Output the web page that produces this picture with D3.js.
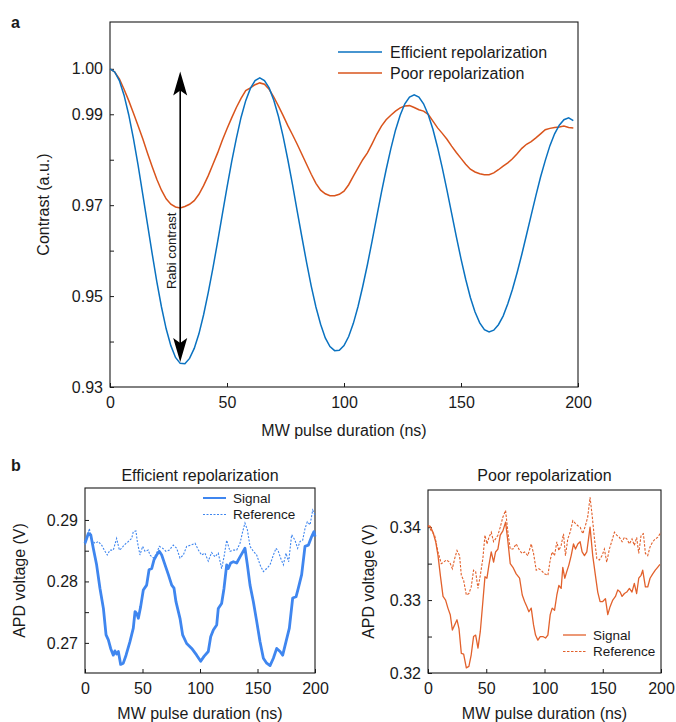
<!DOCTYPE html>
<html>
<head>
<meta charset="utf-8">
<script src="https://cdn.jsdelivr.net/npm/d3@7"></script>
<style>
  html, body { margin: 0; padding: 0; background: #fff; }
  svg { display: block; font-family: "Liberation Sans", Arial, Helvetica, sans-serif; }
  text { fill: #1a1a1a; }
</style>
</head>
<body>
<svg id="chart" width="676" height="722"></svg>
<script>
// ---------------- DATA ----------------
// Panel a : contrast vs MW pulse duration (ns)
const timeA = d3.range(0, 200, 2);
const efficientContrast = [
  1.0000,0.9993,0.9974,0.9942,0.9899,0.9847,0.9788,0.9724,0.9659,0.9594,
  0.9532,0.9476,0.9428,0.9391,0.9365,0.9352,0.9351,0.9363,0.9385,0.9417,
  0.9459,0.9508,0.9562,0.9620,0.9680,0.9739,0.9796,0.9847,0.9893,0.9930,
  0.9957,0.9974,0.9980,0.9974,0.9958,0.9931,0.9895,0.9851,0.9800,0.9745,
  0.9687,0.9630,0.9574,0.9522,0.9476,0.9438,0.9408,0.9389,0.9380,0.9381,
  0.9391,0.9411,0.9440,0.9477,0.9521,0.9569,0.9621,0.9675,0.9728,0.9778,
  0.9824,0.9865,0.9898,0.9923,0.9938,0.9943,0.9938,0.9923,0.9899,0.9867,
  0.9827,0.9782,0.9733,0.9682,0.9631,0.9582,0.9537,0.9497,0.9465,0.9441,
  0.9426,0.9421,0.9425,0.9437,0.9456,0.9483,0.9515,0.9552,0.9592,0.9635,
  0.9678,0.9721,0.9762,0.9798,0.9831,0.9857,0.9876,0.9888,0.9892,0.9886
];
const poorContrast = [
  1.0000,0.9993,0.9978,0.9955,0.9930,0.9903,0.9875,0.9846,0.9815,0.9785,
  0.9757,0.9733,0.9714,0.9702,0.9696,0.9694,0.9697,0.9702,0.9710,0.9724,
  0.9743,0.9765,0.9790,0.9815,0.9843,0.9868,0.9892,0.9915,0.9935,0.9952,
  0.9958,0.9965,0.9969,0.9966,0.9955,0.9938,0.9918,0.9897,0.9875,0.9855,
  0.9834,0.9812,0.9790,0.9768,0.9748,0.9733,0.9725,0.9721,0.9721,0.9724,
  0.9731,0.9745,0.9764,0.9782,0.9800,0.9815,0.9835,0.9856,0.9874,0.9888,
  0.9898,0.9907,0.9914,0.9918,0.9919,0.9915,0.9910,0.9907,0.9900,0.9885,
  0.9870,0.9858,0.9845,0.9830,0.9816,0.9803,0.9790,0.9779,0.9773,0.9769,
  0.9767,0.9767,0.9771,0.9778,0.9786,0.9793,0.9802,0.9813,0.9825,0.9834,
  0.9840,0.9848,0.9857,0.9866,0.9869,0.9871,0.9872,0.9874,0.9871,0.9870
];
const seriesNamesA = ["Efficient repolarization", "Poor repolarization"];
const yTicksA = [0.93,0.94,0.95,0.96,0.97,0.98,0.99,1.00];
const yLabeledA = [0.93,0.95,0.97,0.99,1.00];
const xTicks = [0,50,100,150,200];
const rabiArrow = { t: 30, low: 0.9355, high: 0.9994, label: "Rabi contrast" };

// Panel b (left): efficient repolarization, APD voltage (V)
const effSigT = [0,2.9,5,7.2,10.1,13,16,18.3,20.3,22.3,24.6,26,27.5,29,31,33.3,35.7,39.1,42,43.5,44.9,46.4,48.4,50.7,53.6,55.7,58,60,62.3,64.6,66.7,69.6,72.5,75.4,77.4,79.1,82.6,84.9,88.4,92.8,97.1,100.6,103.5,107.2,109.3,111.6,114.5,115.9,118.8,120.9,123.2,124.6,126.7,129,131.9,134.8,139.1,141.2,143.5,146.4,149.3,152.2,155.1,158,160.9,163.8,166.7,169.6,171.9,174.8,177.7,180.6,183.5,185.5,188.4,191.3,194.2,197.1,199.1,200];
const effSigV = [0.2862,0.2878,0.2876,0.2854,0.2827,0.2789,0.2756,0.2713,0.2705,0.2691,0.2680,0.2687,0.2682,0.2686,0.2665,0.2667,0.2680,0.2702,0.2724,0.2751,0.2748,0.2740,0.2759,0.2786,0.2794,0.2819,0.2821,0.2835,0.2843,0.2849,0.2843,0.2827,0.2811,0.2794,0.2789,0.2767,0.2740,0.2713,0.2699,0.2691,0.2680,0.2670,0.2678,0.2686,0.2710,0.2721,0.2729,0.2756,0.2764,0.2789,0.2827,0.2821,0.2830,0.2832,0.2830,0.2840,0.2854,0.2827,0.2794,0.2767,0.2735,0.2702,0.2675,0.2667,0.2663,0.2675,0.2691,0.2686,0.2680,0.2702,0.2724,0.2773,0.2775,0.2789,0.2811,0.2857,0.2859,0.2873,0.2881,0.2873];
const effRefT = [0,2,3.8,5.8,8.7,11.6,14.5,17.4,19.4,21.7,24.6,27.5,29.9,31.9,33.9,37.7,40.6,42,44.3,45.5,47.8,50.1,52.2,55,56.5,59.4,61.7,64.6,67.5,70.4,73.3,76.8,79.7,82.6,85.5,88.4,91.9,95.7,98.6,101.4,104.3,107.2,110.1,113,115.9,118.8,120.9,123.2,126.1,129,131.9,134.8,137.1,139.1,141.2,143.5,146.4,149.3,152.2,155.1,158,160.9,163.8,166.1,168.1,170.1,172.5,174.8,177.1,179.7,182.6,184.9,187,189.3,191.3,193.3,195.7,198,200];
const effRefV = [0.2859,0.2873,0.2886,0.2867,0.2862,0.2865,0.2859,0.2849,0.2843,0.2851,0.2851,0.2870,0.2851,0.2854,0.2859,0.2865,0.2870,0.2881,0.2882,0.2865,0.2843,0.2857,0.2849,0.2851,0.2843,0.2838,0.2843,0.2857,0.2854,0.2849,0.2851,0.2859,0.2854,0.2838,0.2843,0.2857,0.2859,0.2862,0.2851,0.2843,0.2846,0.2833,0.2847,0.2840,0.2846,0.2821,0.2840,0.2867,0.2849,0.2851,0.2851,0.2862,0.2881,0.2895,0.2884,0.2857,0.2849,0.2843,0.2827,0.2816,0.2821,0.2827,0.2843,0.2854,0.2849,0.2838,0.2827,0.2846,0.2832,0.2876,0.2867,0.2854,0.2865,0.2867,0.2886,0.2897,0.2892,0.2916,0.2908];
const yTicksEff = [0.27,0.275,0.28,0.285,0.29];
const yLabeledEff = [0.27,0.28,0.29];

// Panel b (right): poor repolarization
const poorSigT = [0,2,4.3,6.6,8.6,10.6,12.9,15.1,17.1,19.1,20.9,22.9,24.9,26.6,28.6,30.6,32.9,35.1,37.1,39.1,40.9,42.9,44.9,47.1,48.9,50.6,52.3,54.3,56.3,58,60,62,64.3,66.6,68.6,70.6,72.9,75.7,78.6,80.9,82.9,84.9,86.6,88.6,90.6,92.3,94.3,96.3,98.6,100.9,102.9,104.9,106.6,108.6,110.6,112.3,114.3,115.7,117.4,119.1,120.9,122.9,124.9,126.6,128.6,130.6,132.3,134.3,136.3,139.1,141.4,143.7,145.7,147.7,150,152.3,154.3,156.3,158.6,160.9,162.9,164.9,166.6,168.6,170.6,172.9,175.1,177.1,179.1,180.9,182.9,184.3,186.6,188.6,190.6,192.9,195.1,197.1,199.1];
const poorSigV = [0.3402,0.3401,0.3393,0.3380,0.3361,0.3334,0.3305,0.3300,0.3289,0.3280,0.3259,0.3266,0.3273,0.3261,0.3227,0.3226,0.3207,0.3209,0.3225,0.3250,0.3252,0.3234,0.3257,0.3298,0.3332,0.3330,0.3348,0.3366,0.3352,0.3366,0.3370,0.3389,0.3395,0.3407,0.3380,0.3350,0.3345,0.3336,0.3330,0.3307,0.3298,0.3291,0.3284,0.3289,0.3266,0.3252,0.3245,0.3250,0.3250,0.3248,0.3252,0.3280,0.3289,0.3286,0.3307,0.3320,0.3316,0.3345,0.3330,0.3339,0.3348,0.3361,0.3377,0.3370,0.3377,0.3380,0.3366,0.3361,0.3366,0.3400,0.3361,0.3334,0.3311,0.3298,0.3298,0.3302,0.3280,0.3291,0.3300,0.3305,0.3314,0.3311,0.3305,0.3309,0.3311,0.3316,0.3311,0.3323,0.3309,0.3330,0.3334,0.3341,0.3318,0.3318,0.3330,0.3336,0.3341,0.3345,0.3349];
const poorRefT = [0,2.9,5.7,8.6,11.4,13.4,15.7,18.6,20.9,22.9,24.9,27.1,28.6,30.6,32.9,35.1,37.1,39.1,40.9,42.9,44.9,47.1,48.9,50.6,52.3,54.3,56.3,58,60,62,64.3,66.6,68.6,70.6,72.9,75.7,78.6,80.9,82.9,85.7,88.6,90.6,92.9,95.1,97.1,100,102.9,104.9,106.6,108.6,110.6,112.3,114.3,116.3,118,120,122,124.3,126.6,128.6,130.6,132.9,135.1,137.1,139.1,140.9,142.9,144.9,147.1,149.4,151.4,153.4,155.7,158,160,162,164.3,166.6,168.6,170.6,172.9,175.1,177.1,179.1,180.9,182.9,184.9,186.6,188.6,190.6,192.9,195.1,197.1,200];
const poorRefV = [0.3402,0.3395,0.3389,0.3366,0.3350,0.3352,0.3355,0.3352,0.3343,0.3357,0.3368,0.3361,0.3334,0.3327,0.3307,0.3309,0.3318,0.3341,0.3339,0.3316,0.3334,0.3357,0.3389,0.3377,0.3386,0.3393,0.3380,0.3384,0.3389,0.3400,0.3414,0.3423,0.3393,0.3370,0.3370,0.3377,0.3368,0.3364,0.3366,0.3361,0.3377,0.3364,0.3341,0.3343,0.3341,0.3336,0.3334,0.3355,0.3366,0.3361,0.3380,0.3368,0.3375,0.3391,0.3361,0.3384,0.3393,0.3409,0.3405,0.3402,0.3400,0.3391,0.3402,0.3414,0.3441,0.3416,0.3384,0.3357,0.3355,0.3361,0.3370,0.3352,0.3370,0.3382,0.3393,0.3389,0.3386,0.3380,0.3386,0.3384,0.3377,0.3384,0.3375,0.3386,0.3364,0.3389,0.3391,0.3364,0.3361,0.3373,0.3380,0.3384,0.3386,0.3393];
const yTicksPoor = [0.32,0.325,0.33,0.335,0.34];
const yLabeledPoor = [0.32,0.33,0.34];
const legendB = ["Signal", "Reference"];

// ---------------- STYLE ----------------
const C = {
  blueA: "#0a72c0", orangeA: "#d9541c",
  blueB: "#3f86ef", orangeB: "#e2612c",
  ink: "#1a1a1a"
};

const svg = d3.select("#chart");

function zip(t, v) { return t.map((x, i) => ({ t: x, v: v[i] })); }

function frameAxes(g, x, y, w, h, yTicks, yLabeled, yFmt, fs, xPad) {
  const ax = g.append("g").attr("transform", `translate(0,${h})`)
    .call(d3.axisBottom(x).tickValues(xTicks).tickSizeInner(-4).tickSizeOuter(0).tickPadding(xPad).tickFormat(d3.format("d")));
  const ay = g.append("g")
    .call(d3.axisLeft(y).tickValues(yTicks).tickSizeInner(-4).tickSizeOuter(0).tickPadding(7)
      .tickFormat(d => yLabeled.some(l => Math.abs(l - d) < 1e-9) ? d3.format(yFmt)(d) : ""));
  [ax, ay].forEach(a => {
    a.selectAll("text").attr("font-size", fs).attr("fill", C.ink).attr("font-family", null);
    a.selectAll("line").attr("stroke", C.ink);
    a.select(".domain").remove();
  });
  g.append("rect").attr("x", 0).attr("y", 0).attr("width", w).attr("height", h)
    .attr("fill", "none").attr("stroke", C.ink).attr("stroke-width", 1.1);
}

// ---------------- PANEL A ----------------
{
  const L = 110, T = 22, W = 468, H = 365;
  const x = d3.scaleLinear().domain([0, 200]).range([0, W]);
  const y = d3.scaleLinear().domain([0.93, 1.0103]).range([H, 0]);
  const g = svg.append("g").attr("transform", `translate(${L},${T})`);
  frameAxes(g, x, y, W, H, yTicksA, yLabeledA, ".2f", 16, 10);

  const line = d3.line().x(d => x(d.t)).y(d => y(d.v));
  g.append("path").datum(zip(timeA, poorContrast)).attr("d", line)
    .attr("fill", "none").attr("stroke", C.orangeA).attr("stroke-width", 1.5);
  g.append("path").datum(zip(timeA, efficientContrast)).attr("d", line)
    .attr("fill", "none").attr("stroke", C.blueA).attr("stroke-width", 1.5);

  // Rabi contrast arrow
  const ax = x(rabiArrow.t), y1 = y(rabiArrow.high), y2 = y(rabiArrow.low);
  g.append("line").attr("x1", ax).attr("x2", ax).attr("y1", y1 + 10).attr("y2", y2 - 10)
    .attr("stroke", "#000").attr("stroke-width", 1.6);
  const head = "M0,0 L7,24 L0,19 L-7,24 Z";
  g.append("path").attr("d", head).attr("transform", `translate(${ax},${y1})`).attr("fill", "#000");
  g.append("path").attr("d", head).attr("transform", `translate(${ax},${y2}) rotate(180)`).attr("fill", "#000");
  g.append("text").attr("transform", `translate(${ax - 4},${y(0.9692) + 42}) rotate(-90)`)
    .attr("text-anchor", "middle").attr("font-size", 13).text(rabiArrow.label);

  // axis titles
  svg.append("text").attr("x", L + W / 2).attr("y", 436).attr("text-anchor", "middle")
    .attr("font-size", 16).text("MW pulse duration (ns)");
  svg.append("text").attr("transform", `translate(49,${T + H / 2}) rotate(-90)`)
    .attr("text-anchor", "middle").attr("font-size", 16).text("Contrast (a.u.)");

  // legend
  const cols = [C.blueA, C.orangeA];
  seriesNamesA.forEach((n, i) => {
    const ly = 52 + i * 21;
    svg.append("line").attr("x1", 338).attr("x2", 382).attr("y1", ly).attr("y2", ly)
      .attr("stroke", cols[i]).attr("stroke-width", 1.5);
    svg.append("text").attr("x", 390).attr("y", ly + 5.5).attr("font-size", 16).text(n);
  });

  svg.append("text").attr("x", 11).attr("y", 28).attr("font-size", 16).attr("font-weight", "bold").text("a");
}

// ---------------- PANEL B ----------------
function panelB(opts) {
  const { L, T, W, H, dom, yTicks, yLabeled, sigT, sigV, refT, refV, col, sigW, refW, dash, title, legX, legY, ylabX } = opts;
  const x = d3.scaleLinear().domain([0, 200]).range([0, W]);
  const y = d3.scaleLinear().domain(dom).range([H, 0]);
  const g = svg.append("g").attr("transform", `translate(${L},${T})`);
  frameAxes(g, x, y, W, H, yTicks, yLabeled, ".2f", 16, 10);
  const line = d3.line().x(d => x(d.t)).y(d => y(d.v));
  g.append("path").datum(zip(refT, refV)).attr("d", line).attr("fill", "none")
    .attr("stroke", col).attr("stroke-width", refW).attr("stroke-dasharray", dash);
  g.append("path").datum(zip(sigT, sigV)).attr("d", line).attr("fill", "none")
    .attr("stroke", col).attr("stroke-width", sigW).attr("stroke-linejoin", "round");

  svg.append("text").attr("x", L + W / 2).attr("y", 481).attr("text-anchor", "middle")
    .attr("font-size", 16).text(title);
  svg.append("text").attr("x", L + W / 2).attr("y", 719).attr("text-anchor", "middle")
    .attr("font-size", 16).text("MW pulse duration (ns)");
  svg.append("text").attr("transform", `translate(${ylabX},${T + H / 2}) rotate(-90)`)
    .attr("text-anchor", "middle").attr("font-size", 16).text("APD voltage (V)");

  legendB.forEach((n, i) => {
    const ly = legY + i * 16.5;
    svg.append("line").attr("x1", legX).attr("x2", legX + 23).attr("y1", ly).attr("y2", ly)
      .attr("stroke", col).attr("stroke-width", i === 0 ? Math.min(sigW, 2) : refW)
      .attr("stroke-dasharray", i === 0 ? null : dash);
    svg.append("text").attr("x", legX + 30).attr("y", ly + 4.5).attr("font-size", 13.5).text(n);
  });
}

panelB({ L: 85, T: 488, W: 230, H: 185, dom: [0.2651, 0.2952], yTicks: yTicksEff, yLabeled: yLabeledEff,
  sigT: effSigT, sigV: effSigV, refT: effRefT, refV: effRefV, col: C.blueB, sigW: 2.8, refW: 1.1, dash: "2,1.5",
  title: "Efficient repolarization", legX: 203, legY: 498, ylabX: 25 });

panelB({ L: 428, T: 490, W: 233, H: 183, dom: [0.32, 0.3451], yTicks: yTicksPoor, yLabeled: yLabeledPoor,
  sigT: poorSigT, sigV: poorSigV, refT: poorRefT, refV: poorRefV, col: C.orangeB, sigW: 1.3, refW: 1.1, dash: "2.5,1.5",
  title: "Poor repolarization", legX: 563, legY: 635, ylabX: 374 });

svg.append("text").attr("x", 11).attr("y", 471).attr("font-size", 16).attr("font-weight", "bold").text("b");
</script>
</body>
</html>
